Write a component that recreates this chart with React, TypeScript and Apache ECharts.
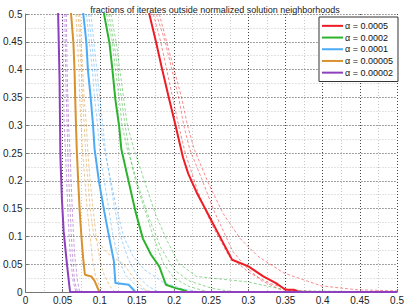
import React, { useEffect, useRef } from "react";
import * as echarts from "echarts";

const TITLE = "fractions of iterates outside normalized solution neighborhoods";
const X_TICKS = [0, 0.05, 0.1, 0.15, 0.2, 0.25, 0.3, 0.35, 0.4, 0.45, 0.5];
const Y_TICKS = [0, 0.05, 0.1, 0.15, 0.2, 0.25, 0.3, 0.35, 0.4, 0.45, 0.5];

const NAMES = ["α = 0.0005", "α = 0.0002", "α = 0.0001", "α = 0.00005", "α = 0.00002"];
const COLORS = ["#ee1c24", "#2bb32b", "#4daaf5", "#d9912e", "#8e3fbf"];

// solid (mean) curves: [radius, fraction]
const redSolid = [[0.165,0.52],[0.167,0.498],[0.176,0.448],[0.184,0.4],[0.193,0.349],[0.202,0.299],[0.212,0.242],[0.219,0.213],[0.23,0.18],[0.25,0.129],[0.263,0.096],[0.278,0.058],[0.3,0.046],[0.32,0.028],[0.337,0.016],[0.35,0.004],[0.361,0.004],[0.368,0]];
const greenSolid = [[0.105,0.52],[0.106,0.498],[0.113,0.448],[0.117,0.4],[0.121,0.346],[0.126,0.299],[0.129,0.257],[0.139,0.198],[0.148,0.145],[0.158,0.096],[0.169,0.067],[0.18,0.046],[0.189,0.013],[0.202,0.007],[0.211,0.004],[0.219,0]];
const blueSolid = [[0.077,0.52],[0.078,0.498],[0.082,0.448],[0.084,0.4],[0.088,0.346],[0.091,0.299],[0.093,0.257],[0.099,0.198],[0.106,0.145],[0.113,0.096],[0.119,0.055],[0.121,0.016],[0.139,0.013],[0.148,0]];
const orangeSolid = [[0.061,0.52],[0.0615,0.498],[0.0645,0.448],[0.066,0.4],[0.067,0.346],[0.068,0.299],[0.069,0.257],[0.071,0.198],[0.073,0.145],[0.0755,0.096],[0.0776,0.061],[0.08,0.031],[0.0886,0.028],[0.093,0.02],[0.0995,0]];
const purpleSolid = [[0.0438,0.52],[0.044,0.498],[0.0458,0.388],[0.047,0.243],[0.049,0.168],[0.0514,0.109],[0.056,0.048],[0.06,0]];

// individual runs (dashed)
const redRuns = [
  [[0.176,0.5],[0.188,0.45],[0.197,0.4],[0.206,0.35],[0.213,0.3],[0.221,0.257],[0.237,0.204],[0.254,0.145],[0.279,0.073],[0.296,0.046],[0.318,0.02],[0.342,0.005],[0.37,0]],
  [[0.18,0.5],[0.19,0.45],[0.2,0.4],[0.21,0.35],[0.218,0.3],[0.227,0.257],[0.246,0.196],[0.266,0.141],[0.289,0.096],[0.313,0.064],[0.348,0.034],[0.398,0.011],[0.446,0.004],[0.5,0.002]],
  [[0.172,0.5],[0.182,0.45],[0.19,0.4],[0.198,0.35],[0.206,0.3],[0.215,0.25],[0.233,0.177],[0.25,0.123],[0.274,0.064],[0.302,0.034],[0.328,0.016],[0.355,0.004],[0.398,0]],
];
const greenRuns = [
  [[0.109,0.5],[0.117,0.45],[0.121,0.4],[0.126,0.35],[0.13,0.3],[0.137,0.257],[0.152,0.19],[0.167,0.13],[0.182,0.08],[0.2,0.04],[0.22,0.02],[0.25,0.007],[0.28,0]],
  [[0.115,0.5],[0.122,0.45],[0.127,0.4],[0.132,0.35],[0.137,0.3],[0.146,0.257],[0.16,0.2],[0.175,0.14],[0.19,0.094],[0.206,0.052],[0.23,0.028],[0.3,0.018],[0.345,0.005],[0.37,0.002]],
  [[0.112,0.5],[0.119,0.45],[0.124,0.4],[0.129,0.35],[0.134,0.3],[0.14,0.25],[0.148,0.2],[0.16,0.15],[0.172,0.1],[0.186,0.05],[0.2,0.025],[0.22,0.01],[0.246,0]],
];
const blueRuns = [
  [[0.085,0.5],[0.089,0.45],[0.093,0.4],[0.097,0.35],[0.101,0.3],[0.106,0.257],[0.115,0.2],[0.121,0.16],[0.132,0.1],[0.144,0.066],[0.16,0.04],[0.185,0.018],[0.21,0.006],[0.235,0]],
  [[0.088,0.5],[0.092,0.45],[0.096,0.4],[0.1,0.35],[0.104,0.3],[0.108,0.25],[0.114,0.2],[0.12,0.15],[0.128,0.1],[0.138,0.06],[0.15,0.03],[0.165,0.01],[0.18,0]],
  [[0.082,0.5],[0.086,0.45],[0.09,0.4],[0.093,0.35],[0.097,0.3],[0.1,0.25],[0.106,0.2],[0.112,0.15],[0.118,0.1],[0.125,0.06],[0.135,0.03],[0.15,0.01],[0.165,0]],
];
const orangeRuns = [
  [[0.068,0.5],[0.07,0.45],[0.072,0.4],[0.073,0.35],[0.075,0.3],[0.077,0.25],[0.08,0.2],[0.083,0.15],[0.087,0.1],[0.09,0.06],[0.094,0.03],[0.1,0.01],[0.107,0]],
  [[0.071,0.5],[0.073,0.45],[0.075,0.4],[0.077,0.35],[0.079,0.3],[0.081,0.25],[0.084,0.2],[0.087,0.15],[0.092,0.1],[0.11,0.07],[0.132,0.05],[0.146,0.025],[0.16,0.005],[0.17,0]],
  [[0.073,0.5],[0.075,0.45],[0.077,0.4],[0.079,0.35],[0.082,0.3],[0.084,0.25],[0.087,0.2],[0.091,0.15],[0.095,0.1],[0.1,0.06],[0.106,0.03],[0.114,0.01],[0.12,0]],
];
const purpleRuns = [
  [[0.05,0.5],[0.051,0.4],[0.052,0.3],[0.054,0.25],[0.056,0.18],[0.058,0.12],[0.06,0.07],[0.064,0.02],[0.068,0]],
  [[0.055,0.5],[0.056,0.4],[0.058,0.3],[0.06,0.25],[0.062,0.18],[0.064,0.12],[0.066,0.07],[0.07,0.02],[0.073,0]],
  [[0.053,0.5],[0.054,0.4],[0.056,0.3],[0.057,0.25],[0.059,0.18],[0.061,0.12],[0.063,0.07],[0.066,0.02],[0.07,0]],
];

const SOLIDS = [redSolid, greenSolid, blueSolid, orangeSolid, purpleSolid];
const RUNS = [redRuns, greenRuns, blueRuns, orangeRuns, purpleRuns];

const FONT = "Liberation Sans, Arial, sans-serif";

export default function App() {
  const ref = useRef<HTMLDivElement>(null);
  useEffect(() => {
    if (!ref.current) return;
    const chart = echarts.init(ref.current, null, { renderer: "svg" });
    const series: any[] = [];
    SOLIDS.forEach((solid, i) => {
      RUNS[i].forEach((run, j) => {
        series.push({
          type: "line",
          name: `run-${i}-${j}`,
          data: [...run, [0.5, 0]],
          showSymbol: false,
          symbol: "none",
          silent: true,
          z: 2,
          lineStyle: { color: COLORS[i], width: 1, type: [3, 2], opacity: 0.5 },
        });
      });
      series.push({
        type: "line",
        name: NAMES[i],
        data: [...solid, [0.5, 0]],
        showSymbol: false,
        symbol: "none",
        z: 3,
        color: COLORS[i],
        lineStyle: { color: COLORS[i], width: 2 },
      });
    });
    const axisCommon = {
      type: "value",
      min: 0,
      max: 0.5,
      interval: 0.05,
      axisLine: { show: true, onZero: false, lineStyle: { color: "#777", width: 1 } },
      axisTick: { show: true, inside: true, length: 3, lineStyle: { color: "#777" } },
      axisLabel: { fontFamily: FONT, fontSize: 10, color: "#222" },
      splitLine: { show: true, lineStyle: { color: "#444", type: [1, 2], width: 1 } },
      minorTick: { show: false, splitNumber: 2 },
      minorSplitLine: { show: true, lineStyle: { color: "#c8c8c8", type: [1, 2], width: 1 } },
    };
    chart.setOption({
      animation: false,
      backgroundColor: "#fff",
      title: {
        text: TITLE,
        left: 210,
        textAlign: "center",
        top: 0,
        textStyle: { fontFamily: FONT, fontSize: 9, fontWeight: "normal", color: "#222" },
      },
      grid: { left: 19, right: 6, top: 14, bottom: 11 },
      xAxis: { ...axisCommon, axisLabel: { ...axisCommon.axisLabel, margin: 3, customValues: X_TICKS } },
      yAxis: { ...axisCommon, axisLabel: { ...axisCommon.axisLabel, margin: 3, customValues: Y_TICKS } },
      legend: {
        data: NAMES.map((n) => ({ name: n, icon: "rect" })),
        orient: "vertical",
        left: 319,
        top: 17,
        width: 79,
        padding: [3, 5, 3, 3],
        itemGap: 0,
        itemWidth: 21,
        itemHeight: 2,
        backgroundColor: "#fff",
        borderColor: "#333",
        borderWidth: 1,
        textStyle: { fontFamily: FONT, fontSize: 9, color: "#111", padding: [0, 0, 0, -3], lineHeight: 11.7, height: 11.7 },
      },
      series,
    });
    return () => chart.dispose();
  }, []);
  return (
    <div
      ref={ref}
      style={{ position: "fixed", left: 0, top: 0, width: 407, height: 305 }}
    />
  );
}
